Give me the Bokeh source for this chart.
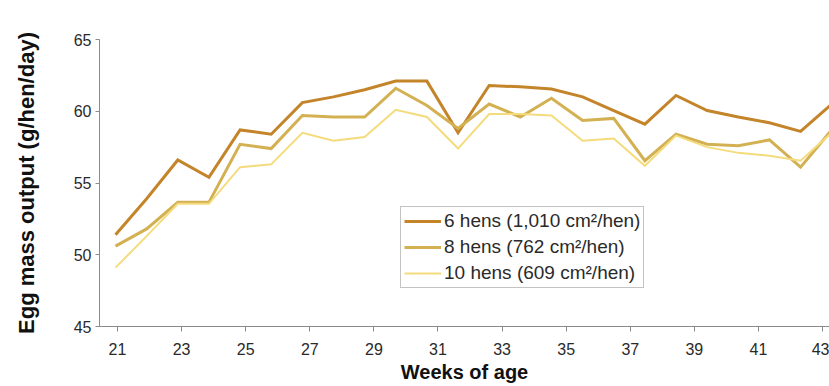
from bokeh.plotting import figure
from bokeh.models import FixedTicker, Legend, LegendItem
from bokeh.embed import file_html
from bokeh.resources import INLINE

# ---- data ----
weeks = list(range(21, 45))
hens6 = [51.4, 53.9, 56.6, 55.4, 58.7, 58.4, 60.6, 61.0, 61.5, 62.1, 62.1, 58.5,
         61.8, 61.7, 61.55, 61.0, 60.05, 59.1, 61.1, 60.05, 59.6, 59.2, 58.6, 60.5]
hens8 = [50.6, 51.8, 53.65, 53.65, 57.7, 57.4, 59.7, 59.6, 59.6, 61.6, 60.4, 58.8,
         60.5, 59.6, 60.9, 59.35, 59.5, 56.55, 58.4, 57.7, 57.6, 58.0, 56.1, 58.7]
hens10 = [49.1, 51.3, 53.55, 53.55, 56.1, 56.3, 58.5, 57.95, 58.2, 60.1, 59.6, 57.4,
          59.8, 59.8, 59.7, 57.95, 58.1, 56.2, 58.3, 57.5, 57.1, 56.9, 56.55, 58.5]
tick_weeks = [21, 23, 25, 27, 29, 31, 33, 35, 37, 39, 41, 43]
y_ticks = [45, 50, 55, 60, 65]
series_labels = ["6 hens (1,010 cm\u00b2/hen)", "8 hens (762 cm\u00b2/hen)",
                 "10 hens (609 cm\u00b2/hen)"]

# ---- layout / style ----
colors = ["#C4842A", "#D3B153", "#F4DB7C"]
widths = [3, 3, 2]
# the reference's tick labels are spaced slightly wider than the data points
LABEL_STEP = 1.0292
LABEL_SHIFT = 0.064
tick_pos = [21 + LABEL_SHIFT + (w - 21) * LABEL_STEP for w in tick_weeks]

p = figure(width=829, height=386, output_backend="svg", toolbar_location=None,
           x_range=(20.486, 43.929), y_range=(45, 65),
           min_border_left=99, min_border_right=0, min_border_top=39,
           min_border_bottom=60)
p.outline_line_color = None
p.xgrid.visible = False
p.ygrid.visible = False
p.background_fill_color = "white"
p.border_fill_color = "white"

renderers = []
for ys, c, w in zip([hens6, hens8, hens10], colors, widths):
    r = p.line(weeks, ys, line_color=c, line_width=w, line_join="miter")
    renderers.append(r)

font = "Liberation Sans"
xa = p.xaxis[0]
xa.ticker = FixedTicker(ticks=tick_pos)
xa.major_label_overrides = {t: str(w) for t, w in zip(tick_pos, tick_weeks)}
xa.axis_label = "Weeks of age"
ya = p.yaxis[0]
ya.ticker = FixedTicker(ticks=y_ticks)
ya.axis_label = "Egg mass output (g/hen/day)"

for ax in (xa, ya):
    ax.axis_line_color = "#8a8a8a"
    ax.major_tick_line_color = "#8a8a8a"
    ax.minor_tick_line_color = None
    ax.major_tick_in = 0
    ax.major_label_text_font = font
    ax.major_label_text_font_size = "16px"
    ax.major_label_text_color = "#2a2a2a"
    ax.axis_label_text_font = font
    ax.axis_label_text_font_style = "bold"
    ax.axis_label_text_color = "#111111"

xa.major_tick_out = 5
xa.major_label_standoff = 11
xa.axis_label_standoff = 3
xa.axis_label_text_font_size = "20px"
ya.major_tick_out = 4
ya.major_label_standoff = 4
ya.axis_label_standoff = 32
ya.axis_label_text_font_size = "22px"

legend = Legend(items=[LegendItem(label=l, renderers=[r])
                       for l, r in zip(series_labels, renderers)],
                location=(301, 38))
legend.label_text_font = font
legend.label_text_font_size = "19px"
legend.label_text_color = "#2a2a2a"
legend.glyph_width = 37
legend.glyph_height = 20
legend.label_height = 20
legend.label_standoff = 3
legend.spacing = 4
legend.padding = 3
legend.margin = 0
legend.border_line_color = "#888888"
legend.border_line_width = 1
legend.background_fill_alpha = 1
p.add_layout(legend, "center")

open("out.html", "w").write(file_html(p, INLINE))
